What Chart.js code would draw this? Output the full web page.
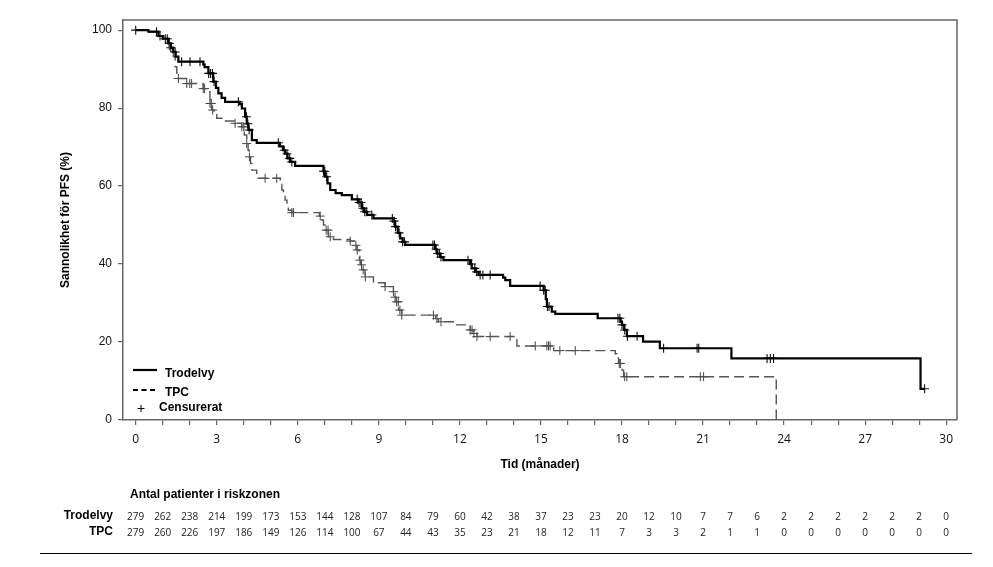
<!DOCTYPE html>
<html>
<head>
<meta charset="utf-8">
<script src="https://cdn.jsdelivr.net/npm/chart.js@4"></script>
<style>
html,body{margin:0;padding:0;background:#fff;}
#wrap{width:993px;height:567px;position:relative;}
</style>
</head>
<body>
<div id="wrap"><canvas id="c" width="993" height="567"></canvas></div>
<script>
// ---- Data ----
const trodelvyTime = [0,0.47,0.84,1.0,1.21,1.3,1.39,1.48,1.58,2.5,2.55,2.69,2.87,2.97,3.06,3.18,3.31,3.85,3.93,4.05,4.11,4.17,4.3,4.48,5.34,5.45,5.53,5.62,5.71,5.9,6.95,7.01,7.1,7.2,7.4,7.63,8.0,8.24,8.37,8.46,8.56,8.8,9.55,9.6,9.7,9.79,9.88,9.97,11.08,11.15,11.27,11.39,12.38,12.44,12.57,12.69,13.6,13.68,13.86,15.1,15.18,15.22,15.4,15.53,17.1,17.95,18.0,18.08,18.18,18.78,19.4,22.05,29.05,29.2];
const trodelvySurv = [100,99.6,98.5,97.8,96.6,95.5,94.4,93.2,91.9,91.2,90.5,88.9,86.8,85.2,83.8,82.6,81.6,81.0,79.9,77.8,76.0,74.4,71.8,71.1,70.2,69.2,68.3,67.1,66.2,65.2,63.8,62.4,60.7,59.0,58.2,57.7,56.6,55.8,54.3,53.4,52.6,51.7,51.0,49.6,48.0,46.6,45.7,44.9,43.8,42.7,41.8,41.0,40.0,38.9,38.0,37.2,36.5,35.9,34.4,33.3,31.0,29.1,27.8,27.2,26.1,25.2,24.4,23.1,21.5,20.1,18.4,15.8,8.0,8.0];
const tpcTime = [0,0.5,0.9,1.1,1.25,1.39,1.46,1.52,1.58,1.89,2.5,2.69,2.75,2.81,2.9,3.0,3.19,3.68,3.93,4.02,4.11,4.16,4.2,4.25,4.3,4.48,5.35,5.41,5.47,5.53,5.6,5.65,5.78,6.8,6.89,6.95,7.01,7.13,7.32,7.94,8.1,8.19,8.28,8.33,8.37,8.49,8.8,9.23,9.54,9.6,9.64,9.73,9.85,11.1,11.21,11.89,12.38,12.5,12.63,14.11,15.47,17.75,17.81,17.87,18.0,18.06,23.71];
const tpcSurv = [100,99.5,98.5,97.0,95.0,93.2,90.6,89.0,87.6,86.3,85.0,84.2,81.2,79.5,78.4,77.4,76.7,76.1,75.2,73.1,70.9,69.2,67.5,65.8,64.1,62.0,60.5,59.0,57.7,56.4,55.1,53.8,53.2,52.3,51.3,50.0,48.7,47.0,46.3,45.9,44.8,43.6,41.0,39.8,38.5,36.7,35.2,34.2,32.9,31.5,30.3,28.2,26.9,26.0,25.2,24.4,23.1,22.2,21.4,19.0,17.8,17.0,16.2,14.5,12.8,11.1,0];
const trodelvyCensor = [0,0.77,0.9,1.1,1.17,1.24,1.3,1.46,1.7,2.01,2.38,2.7,2.77,2.84,2.9,3.8,4.1,4.15,4.2,5.28,5.5,5.6,5.7,5.78,6.95,7.0,7.07,8.2,8.27,8.34,8.41,8.48,8.55,8.74,9.5,9.56,9.62,9.75,9.88,9.95,11.0,11.06,11.12,11.18,11.24,11.3,12.3,12.43,12.55,12.62,12.75,12.85,13.12,14.97,15.1,15.16,15.24,15.3,17.85,17.92,18.0,18.1,18.2,18.56,19.54,20.78,20.84,23.37,23.49,23.61,29.2];
const tpcCensor = [1.58,1.89,2.0,2.07,2.5,2.55,2.75,2.8,2.85,3.68,3.93,4.0,4.11,4.21,4.79,5.22,5.78,5.84,6.83,7.05,7.12,7.2,7.94,8.15,8.2,8.3,8.36,8.42,8.5,9.23,9.54,9.6,9.66,9.72,9.78,9.85,11.02,11.15,11.3,12.38,12.45,12.52,12.63,13.12,13.86,14.79,15.22,15.28,15.34,15.7,16.27,17.9,17.94,18.1,18.18,20.9,21.02];
const riskMonths = [0,1,2,3,4,5,6,7,8,9,10,11,12,13,14,15,16,17,18,19,20,21,22,23,24,25,26,27,28,29,30];
const riskTrodelvy = [279,262,238,214,199,173,153,144,128,107,84,79,60,42,38,37,23,23,20,12,10,7,7,6,2,2,2,2,2,2,0];
const riskTPC = [279,260,226,197,186,149,126,114,100,67,44,43,35,23,21,18,12,11,7,3,3,2,1,1,0,0,0,0,0,0,0];
const xTickLabels = [0,3,6,9,12,15,18,21,24,27,30];
const yTickLabels = [0,20,40,60,80,100];

// ---- build datasets ----
function pts(t, s){ return t.map((v,i)=>({x:v,y:s[i]})); }
function survAt(t, s, x){ let v = s[0]; for(let i=0;i<t.length;i++){ if(t[i] <= x + 1e-9) v = s[i]; else break; } return v; }
function censorPts(c, t, s){ return c.map(x=>({x:x, y:survAt(t,s,x)})); }

const BOLD = 'bold 12px "Liberation Sans", Arial, sans-serif';
const NUMF = '10px "Open Sans", "DejaVu Sans", sans-serif';

const overlay = {
  id:'overlay',
  afterDraw(chart){
    const ctx = chart.ctx, a = chart.chartArea, xs = chart.scales.x;
    ctx.save();
    // frame top/right
    ctx.strokeStyle = '#666'; ctx.lineWidth = 1.5;
    ctx.beginPath();
    ctx.moveTo(a.left, a.top); ctx.lineTo(a.right, a.top); ctx.lineTo(a.right, a.bottom);
    ctx.stroke();
    // axis titles
    ctx.fillStyle = '#000'; ctx.font = BOLD;
    ctx.textAlign = 'center'; ctx.textBaseline = 'middle';
    ctx.fillText('Tid (månader)', (a.left + a.right)/2 + 0, 465);
    ctx.save(); ctx.translate(66, 220); ctx.rotate(-Math.PI/2);
    ctx.fillText('Sannolikhet för PFS (%)', 0, 0); ctx.restore();
    // legend
    ctx.textAlign = 'left';
    ctx.strokeStyle = '#000'; ctx.lineWidth = 2.2;
    ctx.beginPath(); ctx.moveTo(133, 370); ctx.lineTo(157, 370); ctx.stroke();
    ctx.setLineDash([5,3.5]);
    ctx.beginPath(); ctx.moveTo(133, 390); ctx.lineTo(155, 390); ctx.stroke();
    ctx.setLineDash([]);
    ctx.lineWidth = 1;
    ctx.beginPath(); ctx.moveTo(137.5, 408.5); ctx.lineTo(144.5, 408.5); ctx.moveTo(141, 405); ctx.lineTo(141, 412); ctx.stroke();
    ctx.fillText('Trodelvy', 165, 373.5);
    ctx.fillText('TPC', 165, 392.5);
    ctx.fillText('Censurerat', 159, 408);
    // risk table
    ctx.fillText('Antal patienter i riskzonen', 130, 495);
    ctx.textAlign = 'right';
    ctx.fillText('Trodelvy', 113, 516);
    ctx.fillText('TPC', 113, 532);
    ctx.font = NUMF; ctx.fillStyle = '#222'; ctx.textAlign = 'center';
    riskMonths.forEach((m,i)=>{
      const px = xs.getPixelForValue(m);
      ctx.fillText(String(riskTrodelvy[i]), px, 517);
      ctx.fillText(String(riskTPC[i]), px, 533);
    });
    // separator line
    ctx.strokeStyle = '#000'; ctx.lineWidth = 1.2;
    ctx.beginPath(); ctx.moveTo(40, 553.5); ctx.lineTo(972, 553.5); ctx.stroke();
    ctx.restore();
  }
};

new Chart(document.getElementById('c'), {
  type: 'line',
  data: {
    datasets: [
      { label:'Trodelvy', data: pts(trodelvyTime, trodelvySurv), stepped:true, borderColor:'#000', borderWidth:2.2, pointRadius:0, fill:false },
      { label:'TPC', data: pts(tpcTime, tpcSurv), stepped:true, borderColor:'#555', borderWidth:1.4, borderDash:[10,5], pointRadius:0, fill:false },
      { label:'Censurerat Trodelvy', data: censorPts(trodelvyCensor, trodelvyTime, trodelvySurv), showLine:false, pointStyle:'cross', pointRadius:4.5, pointBorderColor:'#111', pointBorderWidth:1.1, borderColor:'#111' },
      { label:'Censurerat TPC', data: censorPts(tpcCensor, tpcTime, tpcSurv), showLine:false, pointStyle:'cross', pointRadius:4.5, pointBorderColor:'#444', pointBorderWidth:1, borderColor:'#444' }
    ]
  },
  options: {
    responsive:false, animation:false, devicePixelRatio:1,
    layout:{ padding:{ left:0, top:20, right:36, bottom:117 } },
    plugins:{ legend:{display:false}, tooltip:{enabled:false} },
    scales:{
      x:{
        type:'linear', min:-0.47, max:30.4,
        afterFit(s){ s.height = 30; },
        border:{ color:'#666', width:1.5 },
        grid:{ drawOnChartArea:false, drawTicks:true, tickLength:5, color:'#666', lineWidth:1.2 },
        ticks:{ stepSize:1, includeBounds:false, autoSkip:false, maxRotation:0, padding:7,
          color:'#111', font:{ family:'"Open Sans", "DejaVu Sans", sans-serif', size:12 },
          callback:(v)=> xTickLabels.includes(v) ? String(v) : '' }
      },
      y:{
        type:'linear', min:0, max:102.6,
        afterFit(s){ s.width = 123; },
        border:{ color:'#666', width:1.5 },
        grid:{ drawOnChartArea:false, drawTicks:true, tickLength:5, color:'#666', lineWidth:1.2 },
        ticks:{ stepSize:20, includeBounds:false, padding:6,
          color:'#111', font:{ family:'"Liberation Sans", Arial, sans-serif', size:12 },
          callback:(v)=> yTickLabels.includes(v) ? String(v) : '' }
      }
    }
  },
  plugins:[overlay]
});
</script>
</body>
</html>
